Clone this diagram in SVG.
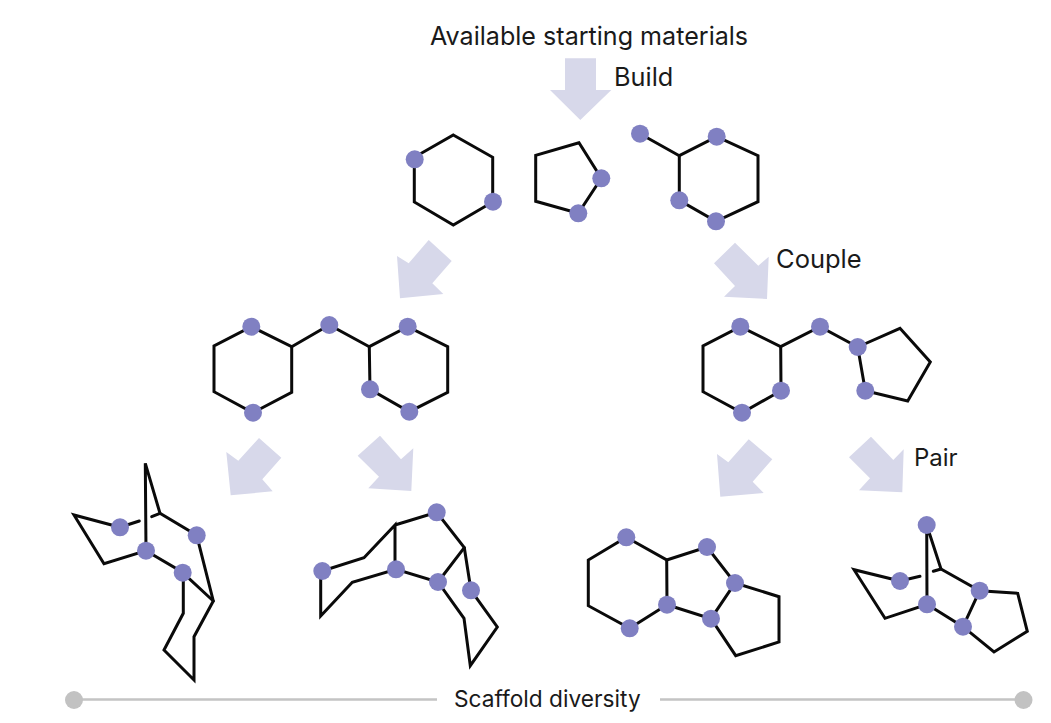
<svg xmlns="http://www.w3.org/2000/svg" width="1051" height="723" viewBox="0 0 1051 723">
<style>
.b{fill:none;stroke:#0a0a0a;stroke-width:3;stroke-linejoin:miter;stroke-linecap:round}
.d{fill:#8080c2}
.a{fill:#d7d8ea}
.t{font-family:"Inter","Liberation Sans",sans-serif;fill:#1a1a1a}
.r{stroke:#c4c4c4;stroke-width:2.5;fill:none}
.e{fill:#c2c2c2}
</style>
<defs>
<circle id="dot" class="d" r="9"/>
</defs>
<rect width="1051" height="723" fill="#fff"/>
<g id="connectors">
<polygon class="a" points="565,58.300 596,58.300 596,90 611.300,90 580.300,120 550,90 565,90"/>
<polygon class="a" points="428.700,240 451.700,261 432.300,283.300 443.300,294 400,298.300 397,256 408.700,263.300"/>
<polygon class="a" points="735,242.700 714,263.300 735,286 724,296.700 767,299 768.700,256.700 758.300,265.700"/>
<polygon class="a" points="259,438 281.300,457.700 262.300,479.300 272.700,491.300 230.700,495.300 226.300,452 238.300,460.700"/>
<polygon class="a" points="380,435.700 357.700,455.700 379,476.700 368.300,488.300 411.300,491 413.300,448.300 401,459.300"/>
<polygon class="a" points="748.700,439.300 772.300,459.300 752.700,481.700 763.700,493 720.300,496.700 717,454 728.300,462.300"/>
<polygon class="a" points="871,436.700 849,457.300 870,478.300 859,490.300 902.300,492.300 903.700,449.300 893.300,460"/>
</g>
<g id="title"><text class="t" font-size="25.100" x="430" y="45">Available starting materials</text></g>
<g id="label-build"><text class="t" font-size="25.300" x="614" y="86">Build</text></g>
<g id="label-couple"><text class="t" font-size="25.500" x="776" y="268">Couple</text></g>
<g id="label-pair"><text class="t" font-size="24" x="914" y="466">Pair</text></g>
<g id="start-hexagon">
<polygon class="b" points="453.300,135 492.700,157.300 492.700,202 453.300,225 414.300,202 414.300,157.300"/>
<use href="#dot" x="414.700" y="159.300"/><use href="#dot" x="493" y="201.700"/>
</g>
<g id="start-pentagon">
<polygon class="b" points="579,142.700 535.700,155.300 535.700,201.300 578.300,213.300 601.300,178.300"/>
<use href="#dot" x="601.300" y="178.300"/><use href="#dot" x="578.300" y="213.300"/>
</g>
<g id="start-substituted-hexagon">
<polygon class="b" points="679.300,155.700 716.700,136.700 758,155.700 758,201.700 716,221.300 679.300,200.300"/>
<path class="b" d="M640,133.700L679.300,155.700"/>
<use href="#dot" x="640" y="133.700"/><use href="#dot" x="716.700" y="136.700"/><use href="#dot" x="679.300" y="200.300"/><use href="#dot" x="716" y="221.300"/>
</g>
<g id="coupled-left">
<polygon class="b" points="251.300,326.700 291.700,346.700 291.700,392.300 253,412.700 214,391.700 214,346"/>
<polygon class="b" points="369.300,346.700 407.700,326.700 447.700,346.700 447.700,392.300 409.300,411.700 370,389.300"/>
<path class="b" d="M291.700,346.700L329.300,325L369.300,346.700"/>
<use href="#dot" x="251.300" y="326.700"/><use href="#dot" x="253" y="412.700"/><use href="#dot" x="329.300" y="325"/><use href="#dot" x="407.700" y="326.700"/><use href="#dot" x="370" y="389.300"/><use href="#dot" x="409.300" y="411.700"/>
</g>
<g id="coupled-right">
<polygon class="b" points="740.300,326.700 780.700,346.700 781,390.700 742,412.700 703,391.700 703,346"/>
<polygon class="b" points="857.700,347 900,328.300 930.300,362 907.700,401 865.300,390.700"/>
<path class="b" d="M780.700,346.700L820,326.700L857.700,347"/>
<use href="#dot" x="740.300" y="326.700"/><use href="#dot" x="781" y="390.700"/><use href="#dot" x="742" y="412.700"/><use href="#dot" x="820" y="326.700"/><use href="#dot" x="857.700" y="347"/><use href="#dot" x="865.300" y="390.700"/>
</g>
<g id="scaffold-1">
<path class="b" d="M120,527.300L74,515L104,563.700L146,550.700L145.300,463.300L160,513.300L196.700,535.300L213.300,601L194,636.700L194,680L164,650L183.300,613.300L183.300,572.700L146,550.700"/>
<path class="b" d="M182.700,572.700L213.300,601"/>
<path class="b" d="M120,527.300L139.300,521M151.700,516.700L160,513.300"/>
<use href="#dot" x="120" y="527.300"/><use href="#dot" x="196.700" y="535.300"/><use href="#dot" x="146" y="550.700"/><use href="#dot" x="182.700" y="572.700"/>
</g>
<g id="scaffold-2">
<path class="b" d="M395,525L436.700,512.300L464.300,547.700L471,590.300L497.300,627L470.300,665.700L464,618.300L438,582L396,569.300L352.300,582.300L320.700,616L320.700,571L322.300,571L364,557.700L395,525L395,569.300"/>
<path class="b" d="M464.300,547.700L438,582"/>
<use href="#dot" x="436.700" y="512.300"/><use href="#dot" x="322.300" y="571"/><use href="#dot" x="396" y="569.300"/><use href="#dot" x="438" y="582"/><use href="#dot" x="471" y="590.300"/>
</g>
<g id="scaffold-3">
<polygon class="b" points="626.300,537.300 666.700,560 667,604.700 629.700,628.300 588.300,605.700 588.300,560"/>
<path class="b" d="M666.700,560L707,547L735,583L711,618.700L667,604.700"/>
<path class="b" d="M735,583L779,596.700L779,642L735.700,655.700L711,618.700"/>
<use href="#dot" x="626.300" y="537.300"/><use href="#dot" x="707" y="547"/><use href="#dot" x="735" y="583"/><use href="#dot" x="711" y="618.700"/><use href="#dot" x="667" y="604.700"/><use href="#dot" x="629.700" y="628.300"/>
</g>
<g id="scaffold-4">
<path class="b" d="M900,581L854,569.700L885,618.300L927,604.300L926.700,525L941,569L979.700,590.700L1017.700,593.300L1027.300,631.300L994,652L963,626.700L927,604.300"/>
<path class="b" d="M979.700,590.700L963,626.700"/>
<path class="b" d="M900,581L920,576.300M933.300,571.300L941,569"/>
<use href="#dot" x="926.700" y="525"/><use href="#dot" x="900" y="581"/><use href="#dot" x="979.700" y="590.700"/><use href="#dot" x="963" y="626.700"/><use href="#dot" x="927" y="604.300"/>
</g>
<g id="scaffold-diversity-axis">
<path class="r" d="M82,699.500H437M660,699.500H1016"/>
<circle class="e" cx="74" cy="700" r="9"/><circle class="e" cx="1023.500" cy="700" r="9"/>
<text class="t" font-size="22.700" x="454" y="707">Scaffold diversity</text>
</g>
</svg>
